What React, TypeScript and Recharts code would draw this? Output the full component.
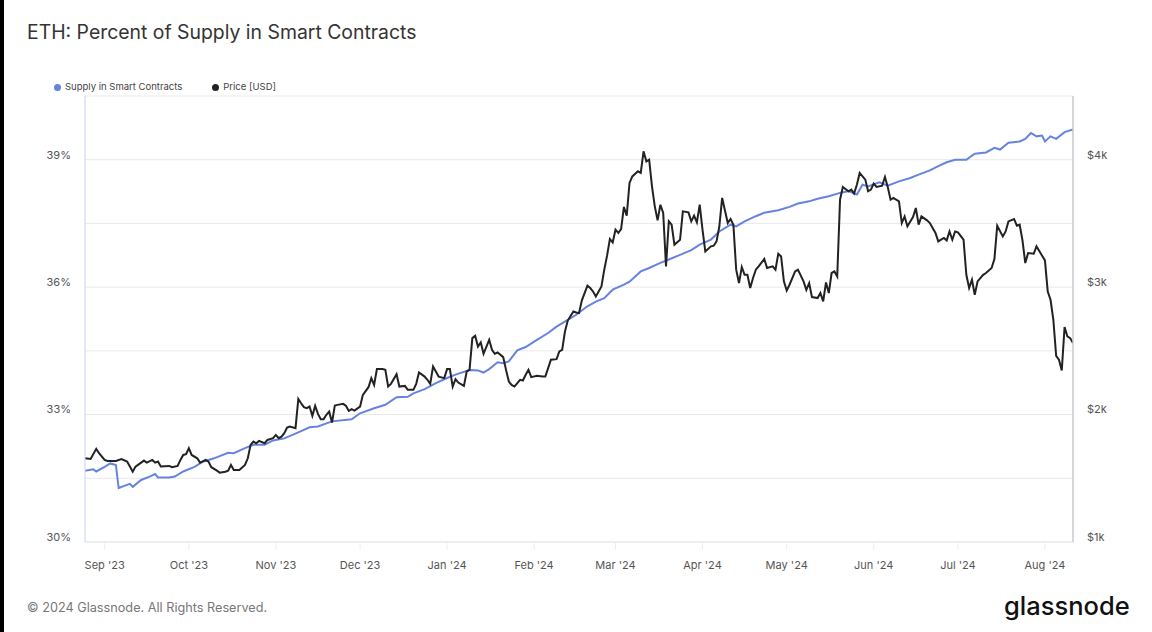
import { CartesianGrid, Line, LineChart, XAxis, YAxis } from "recharts";

// x values are days since 2023-09-01
const MONTH_TICKS = [0, 30, 61, 91, 122, 153, 182, 213, 243, 274, 304, 335];
const MONTH_LABELS = [
  "Sep '23", "Oct '23", "Nov '23", "Dec '23", "Jan '24", "Feb '24",
  "Mar '24", "Apr '24", "May '24", "Jun '24", "Jul '24", "Aug '24",
];
const PCT_TICKS = [30, 31.5, 33, 34.5, 36, 37.5, 39, 40.5];
const USD_TICKS = [1000, 1500, 2000, 2500, 3000, 3500, 4000, 4500];

// [day, % of supply in smart contracts]
const SUPPLY: [number, number][] = [
  [-7, 31.68], [-4, 31.71], [-3, 31.66], [0, 31.77], [2, 31.85], [4, 31.81], [5, 31.27],
  [7, 31.32], [9, 31.37], [10, 31.3], [13, 31.46], [16, 31.54], [18, 31.6], [19, 31.52],
  [23, 31.52], [25, 31.54], [28, 31.66], [32, 31.77], [35, 31.89], [39, 31.97], [44, 32.1],
  [46, 32.09], [50, 32.21], [53, 32.29], [57, 32.29], [60, 32.39], [64, 32.44], [69, 32.58],
  [73, 32.7], [76, 32.72], [81, 32.84], [88, 32.89], [91, 33.03], [96, 33.15], [100, 33.23],
  [104, 33.41], [108, 33.42], [110, 33.5], [114, 33.6], [118, 33.74], [122, 33.86],
  [125, 33.94], [130, 34.05], [133, 34.04], [135, 33.99], [137, 34.07], [140, 34.23],
  [142, 34.21], [144, 34.25], [147, 34.51], [150, 34.59], [154, 34.76], [158, 34.92],
  [161, 35.07], [165, 35.23], [168, 35.35], [172, 35.55], [175, 35.66], [178, 35.74],
  [181, 35.94], [185, 36.06], [187, 36.13], [191, 36.37], [194, 36.45], [198, 36.57],
  [201, 36.65], [205, 36.76], [209, 36.87], [212, 37.0], [216, 37.12], [219, 37.31],
  [223, 37.47], [225, 37.43], [228, 37.55], [232, 37.67], [235, 37.75], [240, 37.81],
  [244, 37.89], [247, 37.97], [251, 38.02], [254, 38.08], [258, 38.14], [262, 38.22],
  [265, 38.26], [268, 38.18], [270, 38.41], [272, 38.37], [276, 38.47], [279, 38.39],
  [283, 38.49], [287, 38.57], [290, 38.65], [294, 38.75], [297, 38.85], [300, 38.94],
  [303, 39.0], [307, 39.0], [310, 39.14], [314, 39.17], [317, 39.28], [319, 39.24],
  [322, 39.4], [326, 39.43], [328, 39.49], [330, 39.63], [332, 39.55], [334, 39.57],
  [335, 39.43], [337, 39.55], [339, 39.49], [342, 39.65], [345, 39.71],
];

// [day, ETH price USD]
const PRICE: [number, number][] = [
  [-7, 1657], [-5, 1652], [-3, 1731], [-2, 1697], [0, 1644], [1, 1636], [4, 1636], [6, 1650],
  [8, 1631], [9, 1592], [10, 1552], [11, 1592], [14, 1639], [15, 1623], [17, 1644], [18, 1623],
  [19, 1631], [20, 1592], [23, 1597], [24, 1587], [26, 1597], [27, 1644], [28, 1683], [29, 1689],
  [30, 1736], [31, 1683], [33, 1657], [34, 1623], [36, 1644], [37, 1631], [38, 1587], [40, 1560],
  [41, 1544], [43, 1552], [44, 1560], [45, 1605], [46, 1566], [48, 1566], [50, 1605], [51, 1657],
  [52, 1762], [53, 1788], [54, 1775], [55, 1793], [57, 1775], [58, 1801], [60, 1815], [61, 1840],
  [62, 1815], [63, 1827], [64, 1854], [65, 1898], [66, 1906], [68, 1893], [69, 2123], [70, 2089],
  [71, 2058], [72, 2050], [73, 2063], [74, 1990], [75, 2068], [76, 2005], [77, 1964], [78, 1964],
  [79, 1998], [80, 2023], [81, 1937], [82, 2071], [83, 2076], [85, 2084], [86, 2068], [87, 2029],
  [88, 2042], [89, 2031], [91, 2063], [92, 2155], [94, 2215], [95, 2286], [96, 2233], [97, 2357],
  [99, 2357], [100, 2351], [101, 2220], [102, 2241], [104, 2317], [105, 2220], [107, 2225],
  [108, 2194], [110, 2194], [111, 2241], [112, 2330], [114, 2298], [115, 2273], [116, 2241],
  [117, 2377], [118, 2338], [119, 2298], [121, 2286], [122, 2357], [123, 2357], [124, 2220],
  [125, 2278], [126, 2251], [128, 2225], [129, 2338], [130, 2351], [131, 2600], [132, 2618],
  [133, 2534], [134, 2566], [135, 2477], [137, 2587], [138, 2508], [139, 2477], [140, 2487],
  [142, 2451], [143, 2351], [144, 2259], [145, 2233], [146, 2220], [148, 2273], [149, 2267],
  [150, 2312], [151, 2351], [152, 2294], [154, 2304], [156, 2298], [157, 2298], [158, 2364],
  [159, 2430], [161, 2435], [162, 2495], [163, 2508], [164, 2652], [165, 2738], [167, 2809],
  [168, 2801], [169, 2796], [170, 2895], [172, 3011], [173, 2993], [174, 2966], [175, 2927],
  [177, 3005], [178, 3137], [179, 3247], [180, 3378], [181, 3351], [182, 3451], [183, 3425],
  [184, 3456], [185, 3629], [186, 3561], [187, 3818], [188, 3869], [190, 3909], [191, 3896],
  [192, 4066], [193, 3987], [194, 4001], [195, 3791], [196, 3634], [197, 3524], [198, 3647],
  [199, 3582], [200, 3163], [201, 3516], [202, 3490], [203, 3333], [205, 3372], [206, 3595],
  [208, 3587], [209, 3516], [210, 3561], [211, 3508], [212, 3647], [213, 3451], [214, 3280],
  [216, 3320], [217, 3325], [218, 3359], [219, 3477], [220, 3700], [222, 3503], [223, 3535],
  [224, 3490], [225, 3137], [226, 3032], [227, 3158], [228, 3097], [229, 3097], [230, 2993],
  [231, 3072], [232, 3137], [233, 3163], [235, 3221], [236, 3150], [238, 3163], [239, 3137],
  [240, 3262], [241, 3241], [242, 3045], [243, 2974], [244, 3019], [246, 3123], [247, 3137],
  [249, 3045], [250, 2979], [251, 3032], [252, 2922], [254, 2914], [255, 2954], [256, 2888],
  [257, 3037], [258, 2954], [259, 3111], [260, 3123], [261, 3084], [262, 3686], [263, 3786],
  [265, 3752], [266, 3765], [267, 3734], [268, 3804], [269, 3896], [271, 3844], [272, 3752],
  [273, 3765], [274, 3812], [275, 3786], [277, 3796], [278, 3865], [279, 3786], [280, 3686],
  [281, 3700], [283, 3673], [284, 3503], [285, 3555], [286, 3477], [288, 3550], [289, 3621],
  [290, 3490], [291, 3555], [293, 3524], [294, 3503], [296, 3425], [297, 3359], [299, 3386],
  [300, 3367], [301, 3437], [302, 3372], [303, 3437], [304, 3430], [306, 3372], [307, 3097],
  [308, 2993], [309, 3058], [310, 2940], [311, 3045], [313, 3097], [314, 3111], [316, 3150],
  [317, 3221], [318, 3482], [320, 3398], [321, 3437], [322, 3516], [324, 3535], [325, 3482],
  [326, 3490], [327, 3367], [328, 3189], [329, 3268], [331, 3262], [332, 3320], [334, 3247],
  [335, 3210], [336, 2966], [337, 2901], [338, 2744], [339, 2461], [340, 2430], [341, 2346],
  [342, 2687], [343, 2613], [344, 2600], [345, 2561],
];

const BLUE = "#6683df";
const DARK = "#222222";
const FONT = "Inter, 'Noto Sans', sans-serif";

const supplyData = SUPPLY.map(([day, pct]) => ({ day, pct }));
const priceData = PRICE.map(([day, usd]) => ({ day, usd }));

function LeftTick({ x, y, payload }: any) {
  if (payload.value % 3 !== 0) return <g />;
  return (
    <text x={x} y={y - 5} dy="0.35em" textAnchor="end" fontSize={11} fill="#555" fontFamily={FONT}>
      {payload.value}%
    </text>
  );
}

function RightTick({ x, y, payload }: any) {
  if (payload.value % 1000 !== 0) return <g />;
  return (
    <text x={x} y={y - 5} dy="0.35em" textAnchor="start" fontSize={11} fill="#555" fontFamily={FONT}>
      ${payload.value / 1000}k
    </text>
  );
}

function MonthTick({ x, y, payload }: any) {
  const i = MONTH_TICKS.indexOf(payload.value);
  return (
    <text x={x} y={y} dy="0.72em" textAnchor="middle" fontSize={11} fill="#555" fontFamily={FONT}>
      {MONTH_LABELS[i]}
    </text>
  );
}

export default function App() {
  return (
    <div
      style={{
        position: "absolute",
        left: 0,
        top: 0,
        width: 1152,
        height: 632,
        background: "#fff",
        fontFamily: FONT,
        overflow: "hidden",
      }}
    >
      <div style={{ position: "absolute", left: 0, top: 0, width: 4, height: 632, background: "#000" }} />
      <div
        style={{ position: "absolute", left: 27, top: 22, fontSize: 19.4, lineHeight: "20px", color: "#333" }}
      >
        ETH: Percent of Supply in Smart Contracts
      </div>

      <div
        style={{
          position: "absolute",
          left: 54,
          top: 81,
          display: "flex",
          alignItems: "center",
          fontSize: 9.5,
          lineHeight: "12px",
          color: "#444",
        }}
      >
        <span style={{ width: 7, height: 7, borderRadius: 4, background: BLUE, marginRight: 4 }} />
        <span style={{ marginRight: 30 }}>Supply in Smart Contracts</span>
        <span style={{ width: 7, height: 7, borderRadius: 4, background: DARK, marginRight: 4 }} />
        <span>Price [USD]</span>
      </div>

      <div style={{ position: "absolute", left: 0, top: 0 }}>
        <LineChart width={1152} height={632} margin={{ top: 96, right: 0, bottom: 60, left: 0 }}>
          <CartesianGrid yAxisId="left" vertical={false} stroke="#e9e9e9" />
          <XAxis
            dataKey="day"
            type="number"
            domain={[-7, 345]}
            ticks={MONTH_TICKS}
            height={30}
            tickSize={8}
            tickMargin={11}
            tickLine={{ stroke: "#eeeeee" }}
            axisLine={{ stroke: "#e4e7ef" }}
            tick={<MonthTick />}
            allowDataOverflow
          />
          <YAxis
            yAxisId="left"
            orientation="left"
            width={85}
            domain={[30, 40.5]}
            ticks={PCT_TICKS}
            tickLine={false}
            tickMargin={8}
            axisLine={{ stroke: "#c9d3f1" }}
            tick={<LeftTick />}
            allowDataOverflow
          />
          <YAxis
            yAxisId="right"
            orientation="right"
            width={79}
            domain={[1000, 4500]}
            ticks={USD_TICKS}
            tickLine={false}
            tickMargin={8}
            axisLine={{ stroke: "#c8c8c8", strokeWidth: 1.5 }}
            tick={<RightTick />}
            allowDataOverflow
          />
          <Line
            yAxisId="left"
            data={supplyData}
            dataKey="pct"
            type="linear"
            stroke={BLUE}
            strokeWidth={2}
            dot={false}
            isAnimationActive={false}
          />
          <Line
            yAxisId="right"
            data={priceData}
            dataKey="usd"
            type="linear"
            stroke={DARK}
            strokeWidth={2}
            dot={false}
            isAnimationActive={false}
          />
        </LineChart>
      </div>

      <div style={{ position: "absolute", left: 27, top: 601, fontSize: 12.7, lineHeight: "14px", color: "#777" }}>
        © 2024 Glassnode. All Rights Reserved.
      </div>
      <div
        style={{
          position: "absolute",
          left: 1004,
          top: 592,
          fontSize: 25.5,
          lineHeight: "28px",
          fontWeight: 500,
          color: "#111",
        }}
      >
        glassnode
      </div>
    </div>
  );
}
